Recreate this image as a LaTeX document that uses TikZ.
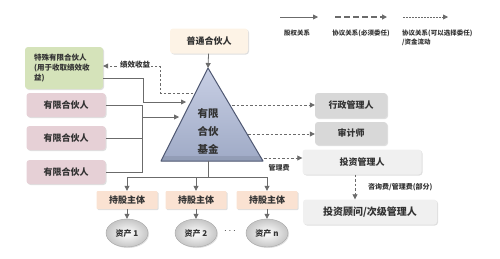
\documentclass[tikz,border=0pt]{standalone}
\usepackage{fontspec}
\setmainfont{Noto Sans CJK SC}
\usetikzlibrary{arrows.meta,shapes.geometric,shadows}

\definecolor{arrowgray}{HTML}{6B6B6B}
\definecolor{txtgray}{HTML}{333333}
\definecolor{spgreen}{HTML}{D5E3BA}
\definecolor{lppink}{HTML}{E6D0D6}
\definecolor{gpcream}{HTML}{FDF3E6}
\definecolor{holdpeach}{HTML}{FAE2D2}
\definecolor{mgray}{HTML}{D8D8D8}
\definecolor{imgray}{HTML}{F0F0F0}
\definecolor{fundtop}{HTML}{C8CFE4}
\definecolor{fundbot}{HTML}{9FAAC6}
\definecolor{fundline}{HTML}{4F5872}

\tikzset{
  fsz/.style={font=\fontsize{#1}{#1}\selectfont\bfseries},
  box/.style={rounded corners=3pt, minimum height=25pt, inner sep=2pt, text=txtgray,
    drop shadow={opacity=0.25, shadow xshift=1pt, shadow yshift=-1pt}},
  line/.style={draw=arrowgray, line width=0.8pt},
  equity/.style={line, -{Triangle[length=5pt,width=5pt]}},
  mandate/.style={equity, dash pattern=on 6pt off 3pt, line width=1.2pt},
  optional/.style={equity, dash pattern=on 2.5pt off 2pt},
  lbl/.style={fsz=7, text=txtgray, inner sep=1pt},
}

\begin{document}
\begin{tikzpicture}[x=1pt,y=-1pt]
      \useasboundingbox (0,0) rectangle (500,258);

      % Legend
      \coordinate (la1) at (280,17); \coordinate (lb1) at (318,17);
      \coordinate (la2) at (335,17); \coordinate (lb2) at (387,17);
      \coordinate (la3) at (403,17); \coordinate (lb3) at (448,17);
      \draw[equity] (la1) -- (lb1);
      \draw[mandate] (la2) -- (lb2);
      \draw[equity, dash pattern=on 1.5pt off 1.5pt] (la3) -- (lb3);
      \node[lbl, fsz=6.5] (lg1) at (297,33) {股权关系};
      \node[lbl, fsz=6.5] (lg2) at (361,33) {协议关系(必须委任)};
      \node[lbl, fsz=6.5, anchor=north west, align=left] (lg3) at (401,29)
        {协议关系(可以选择委任)\\[1pt]/资金流动};

      % Fund triangle
      \coordinate (apex) at (208,68);
      \coordinate (bl) at (161,161);
      \coordinate (br) at (263,161);
      \shade[top color=fundtop, bottom color=fundbot] (apex) -- (br) -- (bl) -- cycle;
      \fill[fundbot!80!black, opacity=0.4] (bl) -- (br) -- (260.5,156) -- (163.5,156) -- cycle;
      \draw[fundline, line width=1pt, line join=round] (apex) -- (br) -- (bl) -- cycle;
      \node[fsz=10.5, text=txtgray, align=center, font=\fontsize{10.5}{18}\selectfont\bfseries]
        (fund) at (208,131) {有限\\合伙\\基金};

      % Partners
      \node[box, fill=gpcream, minimum width=78pt, fsz=9] (gp) at (209,41) {普通合伙人};
      \node[box, fill=spgreen, minimum width=78pt, minimum height=42pt, text width=60pt,
        align=left, font=\fontsize{7.5}{10}\selectfont\bfseries] (sp) at (64,68)
        {特殊有限合伙人\\(用于收取绩效收\\益)};
      \node[box, fill=lppink, minimum width=79pt, minimum height=24pt, fsz=9] (lp1) at (66,105) {有限合伙人};
      \node[box, fill=lppink, minimum width=79pt, minimum height=24pt, fsz=9] (lp2) at (66,138) {有限合伙人};
      \node[box, fill=lppink, minimum width=79pt, minimum height=24pt, fsz=9] (lp3) at (66,172) {有限合伙人};

      % Service providers
      \node[box, fill=mgray, minimum width=72pt, fsz=9] (admin) at (351,105.5) {行政管理人};
      \node[box, fill=mgray, minimum width=72pt, minimum height=23pt, fsz=9] (audit) at (351,133.5) {审计师};
      \node[box, fill=imgray, minimum width=119pt, fsz=9] (im) at (362,162) {投资管理人};
      \node[box, fill=imgray, minimum width=134pt, fsz=10] (adv) at (370,212) {投资顾问/次级管理人};

      % Holding vehicles and assets
      \foreach \n/\x/\t in {1/127/1, 2/196/2, 3/267/n}{
        \node[box, fill=holdpeach, rounded corners=1pt, minimum width=61pt, minimum height=18pt, fsz=9]
          (h\n) at (\x,200) {持股主体};
        \node[ellipse, draw=gray!70, inner color=white, outer color=gray!45, minimum width=42pt,
          minimum height=28pt, inner sep=0pt, fsz=8, text=txtgray,
          drop shadow={opacity=0.25, shadow xshift=1pt, shadow yshift=-1pt}]
          (a\n) at (\x,233) {资产 \t};
        \draw[equity] (h\n) -- (a\n);
      }
      \node[text=txtgray] (dots) at (230,231) {$\cdots$};

      % GP into fund
      \draw[equity] (gp) -- (apex);

      % Special LP (equity in, carry out)
      \coordinate (inA) at (186,102);
      \draw[equity] ([yshift=-10pt]sp.east) -| ([xshift=-43pt]inA) -- (inA);
      \coordinate (outP) at (193,93);
      \coordinate (turnP) at (160,66);
      \draw[optional] (outP) -| (turnP) -- (turnP -| sp.east);
      \node[lbl, fsz=7.5, fill=white] (perf) at (135,65) {绩效收益};

      % Limited partners
      \coordinate (busB) at (142,117);
      \coordinate (inB) at (179,117);
      \draw[line] (lp1.east) -| (busB |- lp3.east) -- (lp3.east);
      \draw[line] (lp2.east) -- (lp2.east -| busB);
      \draw[equity] (busB) -- (inB);

      % Fund to service providers
      \coordinate (outA) at (232,105);
      \coordinate (outB) at (248,134);
      \coordinate (outC) at (264,158);
      \draw[optional] (outA) -- (outA -| admin.west);
      \draw[optional] (outB) -- (outB -| audit.west);
      \draw[optional] (outC) -- (outC -| im.west);
      \node[lbl] (fee) at (279,168) {管理费};
      \draw[optional] ([xshift=-7pt]im.south) -- ([xshift=-7pt]im.south |- adv.north);
      \node[lbl, anchor=west] (advfee) at (367,187) {咨询费/管理费(部分)};

      % Fund to holding vehicles
      \coordinate (base) at (208,161);
      \coordinate (split) at (208,177);
      \draw[line] (base) -- (split);
      \draw[equity] (split) -| (h1);
      \draw[equity] (split) -| (h3);
      \draw[equity] (split -| h2) -- (h2);

\end{tikzpicture}
\end{document}
